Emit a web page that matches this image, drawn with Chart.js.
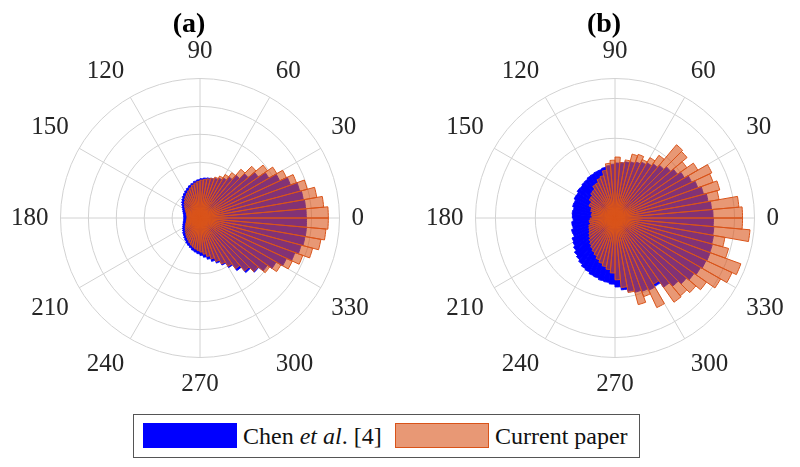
<!DOCTYPE html>
<html>
<head>
<meta charset="utf-8">
<script src="https://cdn.jsdelivr.net/npm/chart.js@4.4.0/dist/chart.umd.min.js"></script>
<style>
  body { margin: 0; background: #fff; width: 800px; height: 467px; position: relative; overflow: hidden; font-family: "Liberation Serif", serif; }
  #chartA { position: absolute; left: 0; top: 0; }
  #chartB { position: absolute; left: 415px; top: 0; }
  .legend { position: absolute; left: 133px; top: 414px; width: 505px; height: 42px; border: 1px solid #555; background: #fff; }
  .patch { position: absolute; top: 8px; width: 94px; height: 25px; box-sizing: border-box; }
  .txt { position: absolute; top: 0; line-height: 42px; font-size: 24px; color: #111; white-space: nowrap; }
</style>
</head>
<body>
<canvas id="chartA" width="378" height="407"></canvas>
<canvas id="chartB" width="378" height="407"></canvas>
<div class="legend">
  <span class="patch" style="left:9px;background:#0000ff"></span>
  <span class="txt" style="left:109px">Chen <i>et al</i>. [4]</span>
  <span class="patch" style="left:261px;background:rgba(217,83,25,0.6);border:1px solid #d95319"></span>
  <span class="txt" style="left:361px">Current paper</span>
</div>
<script>
// bins of 5 degrees, counter-clockwise from 0 (bin centres 2.5, 7.5, ... 357.5)
const binWidth = 5;
const tickAngles = [0, 30, 60, 90, 120, 150, 180, 210, 240, 270, 300, 330];

// panel (a)
const chenA = [
  3.81, 3.80, 3.76, 3.70, 3.45, 3.15, 2.85, 2.55, 2.25, 2.00, 1.80, 1.66, 1.58, 1.52, 1.48, 1.46, 1.44, 1.41,
  1.37, 1.33, 1.27, 1.22, 1.16, 1.10, 1.05, 0.99, 0.93, 0.87, 0.81, 0.75, 0.70, 0.66, 0.63, 0.60, 0.59, 0.58,
  0.58, 0.59, 0.61, 0.63, 0.66, 0.69, 0.73, 0.77, 0.82, 0.86, 0.91, 0.96, 1.02, 1.07, 1.12, 1.18, 1.23, 1.28,
  1.34, 1.41, 1.50, 1.61, 1.72, 1.86, 2.05, 2.30, 2.55, 2.75, 2.95, 3.15, 3.42, 3.62, 3.75, 3.82, 3.83, 3.82
];
const currentA = [
  4.60, 4.45, 4.25, 3.98, 3.68, 3.42, 3.18, 2.95, 2.62, 2.28, 1.98, 1.80, 1.66, 1.56, 1.48, 1.43, 1.39, 1.36,
  1.31, 1.26, 1.20, 1.13, 1.06, 1.00, 0.94, 0.88, 0.81, 0.75, 0.69, 0.63, 0.58, 0.54, 0.51, 0.49, 0.47, 0.47,
  0.47, 0.48, 0.50, 0.52, 0.55, 0.58, 0.62, 0.66, 0.70, 0.75, 0.80, 0.85, 0.90, 0.96, 1.02, 1.07, 1.12, 1.17,
  1.22, 1.30, 1.40, 1.52, 1.66, 1.82, 2.00, 2.22, 2.48, 2.72, 3.05, 3.35, 3.65, 3.92, 4.18, 4.40, 4.53, 4.60
];

// panel (b)
const chenB = [
  2.46, 2.43, 2.37, 2.30, 2.21, 2.12, 2.01, 1.91, 1.82, 1.73, 1.66, 1.60, 1.55, 1.50, 1.46, 1.43, 1.40, 1.38,
  1.35, 1.32, 1.29, 1.26, 1.25, 1.23, 1.22, 1.19, 1.18, 1.15, 1.16, 1.12, 1.13, 1.09, 1.10, 1.06, 1.08, 1.07,
  1.05, 1.09, 1.08, 1.13, 1.12, 1.19, 1.22, 1.27, 1.33, 1.37, 1.42, 1.47, 1.50, 1.54, 1.56, 1.60, 1.62, 1.66,
  1.73, 1.81, 1.87, 1.93, 1.96, 2.00, 1.98, 2.12, 2.24, 2.34, 2.42, 2.48, 2.52, 2.54, 2.53, 2.51, 2.49, 2.47
];
const currentB = [
  3.20, 3.12, 2.65, 2.72, 2.62, 2.68, 2.40, 2.20, 2.36, 2.40, 1.92, 1.75, 1.62, 1.70, 1.66, 1.48, 1.40, 1.53,
  1.45, 1.38, 1.22, 1.10, 1.06, 0.98, 0.97, 0.88, 0.86, 0.80, 0.79, 0.71, 0.72, 0.64, 0.63, 0.58, 0.60, 0.57,
  0.62, 0.65, 0.63, 0.68, 0.70, 0.72, 0.76, 0.80, 0.85, 0.90, 0.95, 1.00, 1.05, 1.12, 1.18, 1.24, 1.30, 1.38,
  1.55, 1.75, 1.90, 2.25, 2.10, 2.48, 1.92, 2.58, 2.55, 2.65, 2.80, 3.06, 3.24, 3.36, 2.95, 2.80, 3.40, 3.20
];

const nBins = 360 / binWidth;

// chart.js goes clockwise, so feed the bins backwards starting at 3 o'clock
function cw(arr) { return arr.slice().reverse(); }

// spoke j sits at angle (360 - 5j) % 360
const labels = [];
for (let j = 0; j < nBins; j++) {
  const a = (360 - j * binWidth) % 360;
  labels.push(tickAngles.includes(a) ? String(a) : '');
}

const gridColor = '#d2d2d2';

function makeChart(id, title, chen, current, rMax) {
  return new Chart(document.getElementById(id), {
    type: 'polarArea',
    data: {
      labels: labels,
      datasets: [
        {
          label: 'Current paper',
          data: cw(current),
          backgroundColor: 'rgba(217, 83, 25, 0.6)',
          borderColor: '#d95319',
          borderWidth: 1,
          order: 0
        },
        {
          label: 'Chen et al. [4]',
          data: cw(chen),
          backgroundColor: '#0000ff',
          borderColor: '#0000ff',
          borderWidth: 1,
          order: 1
        }
      ]
    },
    options: {
      responsive: false,
      animation: false,
      plugins: {
        legend: { display: false },
        tooltip: { enabled: false },
        title: {
          display: true,
          text: title,
          color: '#000',
          font: { family: 'Liberation Serif', size: 28, weight: 'bold', lineHeight: 1 },
          padding: { top: 11, bottom: -10 }
        }
      },
      scales: {
        r: {
          min: 0,
          max: rMax,
          startAngle: 90,
          ticks: { display: false, stepSize: 1 },
          grid: { circular: true, color: gridColor, lineWidth: 1 },
          angleLines: {
            display: true,
            color: gridColor,
            lineWidth: ctx => (ctx.index % 6 === 0 ? 1 : 0)
          },
          pointLabels: {
            display: true,
            padding: 12,
            color: '#262626',
            font: { family: 'Liberation Serif', size: 25, lineHeight: 1.2 }
          }
        }
      }
    }
  });
}

makeChart('chartA', '(a)', chenA, currentA, 5);
makeChart('chartB', '(b)', chenB, currentB, 3.5);
</script>
</body>
</html>
